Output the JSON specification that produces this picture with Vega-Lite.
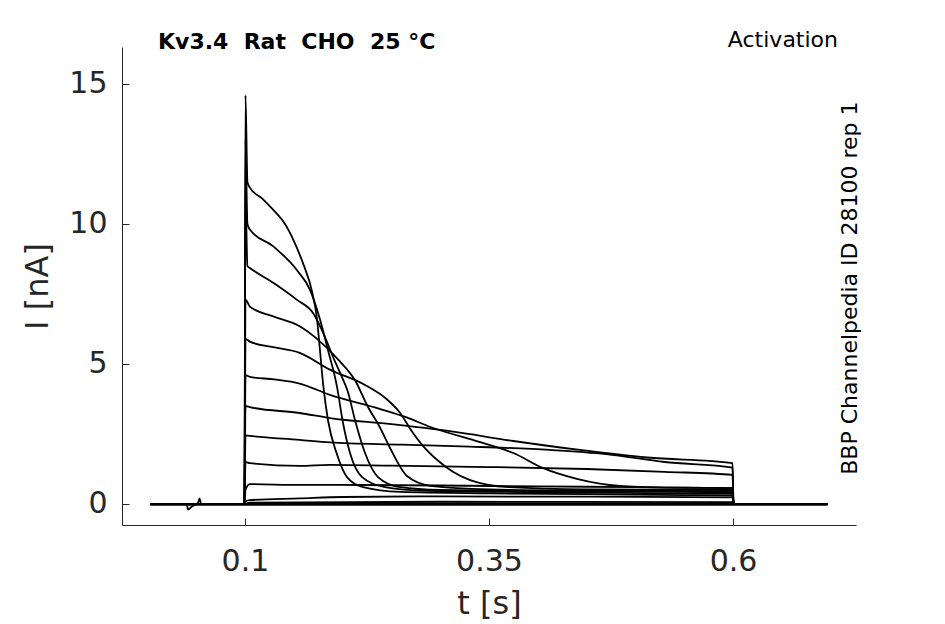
{
  "$schema": "https://vega.github.io/schema/vega-lite/v6.json",
  "width": 734,
  "height": 478,
  "autosize": "none",
  "padding": {"left": 122, "top": 47, "right": 89, "bottom": 99},
  "background": "white",
  "config": {
    "view": {"stroke": null},
    "font": "DejaVu Sans",
    "axis": {
      "grid": false,
      "domainColor": "#262626",
      "tickColor": "#262626",
      "labelColor": "#262626",
      "titleColor": "#262626",
      "labelFont": "DejaVu Sans",
      "titleFont": "DejaVu Sans",
      "labelFontSize": 30,
      "titleFontSize": 32,
      "titleFontWeight": "normal",
      "tickSize": -7,
      "domainWidth": 1,
      "tickWidth": 1
    },
    "axisX": {"labelPadding": 28, "titlePadding": 12},
    "axisY": {"labelPadding": 22, "titlePadding": 14}
  },
  "title": {
    "text": "Kv3.4 \u00a0Rat \u00a0CHO \u00a025 °C",
    "anchor": "start",
    "frame": "group",
    "offset": -42,
    "baseline": "alphabetic",
    "dx": 36,
    "fontSize": 22,
    "fontWeight": "bold",
    "color": "black",
    "font": "DejaVu Sans"
  },
  "layer": [
    {
      "data": {"values": [
        {"s":"A","t":0.003,"I":0},{"s":"A","t":0.0995,"I":0},{"s":"A","t":0.1005,"I":14.6},{"s":"A","t":0.1025,"I":11.5},{"s":"A","t":0.105,"I":11.3},{"s":"A","t":0.118,"I":10.9},{"s":"A","t":0.129,"I":10.5},{"s":"A","t":0.14,"I":10.05},{"s":"A","t":0.15,"I":9.4},{"s":"A","t":0.1594,"I":8.6},{"s":"A","t":0.1686,"I":7.6},{"s":"A","t":0.1738,"I":6.6},{"s":"A","t":0.1768,"I":5.5},{"s":"A","t":0.18,"I":4.3},{"s":"A","t":0.185,"I":3.0},{"s":"A","t":0.194,"I":1.8},{"s":"A","t":0.2045,"I":0.96},{"s":"A","t":0.221,"I":0.6},{"s":"A","t":0.259,"I":0.43},{"s":"A","t":0.35,"I":0.38},{"s":"A","t":0.45,"I":0.35},{"s":"A","t":0.55,"I":0.32},{"s":"A","t":0.5995,"I":0.3},{"s":"A","t":0.6005,"I":0},{"s":"A","t":0.697,"I":0},
        {"s":"B","t":0.003,"I":0},{"s":"B","t":0.0995,"I":0},{"s":"B","t":0.1005,"I":13.0},{"s":"B","t":0.1025,"I":10.0},{"s":"B","t":0.105,"I":9.8},{"s":"B","t":0.129,"I":9.2},{"s":"B","t":0.1533,"I":8.35},{"s":"B","t":0.1666,"I":7.65},{"s":"B","t":0.1768,"I":6.6},{"s":"B","t":0.185,"I":5.5},{"s":"B","t":0.1943,"I":4.18},{"s":"B","t":0.2004,"I":2.9},{"s":"B","t":0.2076,"I":1.82},{"s":"B","t":0.22,"I":0.96},{"s":"B","t":0.2434,"I":0.6},{"s":"B","t":0.28,"I":0.48},{"s":"B","t":0.4,"I":0.42},{"s":"B","t":0.5995,"I":0.36},{"s":"B","t":0.6005,"I":0},{"s":"B","t":0.697,"I":0},
        {"s":"C","t":0.003,"I":0},{"s":"C","t":0.0995,"I":0},{"s":"C","t":0.1005,"I":11.0},{"s":"C","t":0.1025,"I":8.5},{"s":"C","t":0.105,"I":8.43},{"s":"C","t":0.129,"I":7.9},{"s":"C","t":0.1533,"I":7.29},{"s":"C","t":0.1697,"I":6.82},{"s":"C","t":0.182,"I":5.96},{"s":"C","t":0.1902,"I":5.25},{"s":"C","t":0.1985,"I":4.6},{"s":"C","t":0.2055,"I":4.0},{"s":"C","t":0.2127,"I":3.0},{"s":"C","t":0.223,"I":1.82},{"s":"C","t":0.2363,"I":0.96},{"s":"C","t":0.2588,"I":0.6},{"s":"C","t":0.3,"I":0.5},{"s":"C","t":0.45,"I":0.45},{"s":"C","t":0.5995,"I":0.42},{"s":"C","t":0.6005,"I":0},{"s":"C","t":0.697,"I":0},
        {"s":"D","t":0.003,"I":0},{"s":"D","t":0.0995,"I":0},{"s":"D","t":0.1005,"I":7.3},{"s":"D","t":0.105,"I":7.05},{"s":"D","t":0.129,"I":6.7},{"s":"D","t":0.156,"I":6.35},{"s":"D","t":0.172,"I":5.95},{"s":"D","t":0.197,"I":5.1},{"s":"D","t":0.213,"I":4.4},{"s":"D","t":0.2255,"I":3.5},{"s":"D","t":0.238,"I":2.75},{"s":"D","t":0.2486,"I":2.0},{"s":"D","t":0.266,"I":1.0},{"s":"D","t":0.29,"I":0.65},{"s":"D","t":0.35,"I":0.52},{"s":"D","t":0.45,"I":0.48},{"s":"D","t":0.5995,"I":0.46},{"s":"D","t":0.6005,"I":0},{"s":"D","t":0.697,"I":0},
        {"s":"E","t":0.003,"I":0},{"s":"E","t":0.0995,"I":0},{"s":"E","t":0.1005,"I":5.9},{"s":"E","t":0.105,"I":5.8},{"s":"E","t":0.129,"I":5.6},{"s":"E","t":0.156,"I":5.4},{"s":"E","t":0.187,"I":4.8},{"s":"E","t":0.223,"I":4.25},{"s":"E","t":0.245,"I":3.75},{"s":"E","t":0.259,"I":3.25},{"s":"E","t":0.269,"I":2.7},{"s":"E","t":0.283,"I":2.05},{"s":"E","t":0.297,"I":1.57},{"s":"E","t":0.313,"I":1.15},{"s":"E","t":0.33,"I":0.86},{"s":"E","t":0.37,"I":0.6},{"s":"E","t":0.45,"I":0.52},{"s":"E","t":0.5995,"I":0.5},{"s":"E","t":0.6005,"I":0},{"s":"E","t":0.697,"I":0},
        {"s":"F","t":0.003,"I":0},{"s":"F","t":0.0995,"I":0},{"s":"F","t":0.1005,"I":4.6},{"s":"F","t":0.105,"I":4.54},{"s":"F","t":0.13,"I":4.45},{"s":"F","t":0.156,"I":4.3},{"s":"F","t":0.187,"I":3.9},{"s":"F","t":0.238,"I":3.4},{"s":"F","t":0.265,"I":3.1},{"s":"F","t":0.29,"I":2.75},{"s":"F","t":0.341,"I":2.21},{"s":"F","t":0.375,"I":1.82},{"s":"F","t":0.405,"I":1.29},{"s":"F","t":0.44,"I":0.9},{"s":"F","t":0.484,"I":0.65},{"s":"F","t":0.55,"I":0.58},{"s":"F","t":0.5995,"I":0.57},{"s":"F","t":0.6005,"I":0},{"s":"F","t":0.697,"I":0},
        {"s":"G","t":0.003,"I":0},{"s":"G","t":0.0995,"I":0},{"s":"G","t":0.1005,"I":3.5},{"s":"G","t":0.105,"I":3.46},{"s":"G","t":0.156,"I":3.25},{"s":"G","t":0.187,"I":3.07},{"s":"G","t":0.25,"I":2.85},{"s":"G","t":0.31,"I":2.6},{"s":"G","t":0.375,"I":2.25},{"s":"G","t":0.443,"I":1.93},{"s":"G","t":0.512,"I":1.66},{"s":"G","t":0.5995,"I":1.46},{"s":"G","t":0.6005,"I":0},{"s":"G","t":0.697,"I":0},
        {"s":"H","t":0.003,"I":0},{"s":"H","t":0.0995,"I":0},{"s":"H","t":0.1005,"I":2.45},{"s":"H","t":0.105,"I":2.43},{"s":"H","t":0.156,"I":2.29},{"s":"H","t":0.187,"I":2.2},{"s":"H","t":0.26,"I":2.12},{"s":"H","t":0.33,"I":2.05},{"s":"H","t":0.4125,"I":1.93},{"s":"H","t":0.47,"I":1.78},{"s":"H","t":0.53,"I":1.5},{"s":"H","t":0.5995,"I":1.3},{"s":"H","t":0.6005,"I":0},{"s":"H","t":0.697,"I":0},
        {"s":"I","t":0.003,"I":0},{"s":"I","t":0.0995,"I":0},{"s":"I","t":0.1005,"I":1.5},{"s":"I","t":0.105,"I":1.46},{"s":"I","t":0.156,"I":1.36},{"s":"I","t":0.187,"I":1.4},{"s":"I","t":0.25,"I":1.37},{"s":"I","t":0.35,"I":1.32},{"s":"I","t":0.45,"I":1.25},{"s":"I","t":0.53,"I":1.15},{"s":"I","t":0.5995,"I":1.04},{"s":"I","t":0.6005,"I":0},{"s":"I","t":0.697,"I":0},
        {"s":"J","t":0.003,"I":0},{"s":"J","t":0.0995,"I":0},{"s":"J","t":0.1005,"I":0.5},{"s":"J","t":0.105,"I":0.71},{"s":"J","t":0.156,"I":0.68},{"s":"J","t":0.2,"I":0.68},{"s":"J","t":0.3,"I":0.66},{"s":"J","t":0.4,"I":0.63},{"s":"J","t":0.5,"I":0.6},{"s":"J","t":0.5995,"I":0.57},{"s":"J","t":0.6005,"I":0},{"s":"J","t":0.697,"I":0},
        {"s":"K","t":0.003,"I":0},{"s":"K","t":0.0995,"I":0},{"s":"K","t":0.1005,"I":0.1},{"s":"K","t":0.105,"I":0.14},{"s":"K","t":0.156,"I":0.2},{"s":"K","t":0.2,"I":0.25},{"s":"K","t":0.3,"I":0.27},{"s":"K","t":0.45,"I":0.26},{"s":"K","t":0.5995,"I":0.24},{"s":"K","t":0.6005,"I":0},{"s":"K","t":0.697,"I":0},
        {"s":"L","t":0.003,"I":0},{"s":"L","t":0.0995,"I":0},{"s":"L","t":0.105,"I":0.05},{"s":"L","t":0.3,"I":0.08},{"s":"L","t":0.5995,"I":0.07},{"s":"L","t":0.6005,"I":0},{"s":"L","t":0.697,"I":0},
        {"s":"M","t":0.003,"I":0},{"s":"M","t":0.0405,"I":0},{"s":"M","t":0.0415,"I":-0.2},{"s":"M","t":0.046,"I":-0.08},{"s":"M","t":0.052,"I":0.05},{"s":"M","t":0.0535,"I":0.2},{"s":"M","t":0.055,"I":0},{"s":"M","t":0.0995,"I":0},{"s":"M","t":0.105,"I":0.02},{"s":"M","t":0.5995,"I":0.02},{"s":"M","t":0.6005,"I":0},{"s":"M","t":0.697,"I":0},
        {"s":"N","t":0.003,"I":-0.03},{"s":"N","t":0.697,"I":-0.03}
      ]},
      "mark": {"type": "line", "color": "black", "strokeWidth": 1.8, "strokeJoin": "round", "interpolate": "monotone", "clip": true},
      "encoding": {
        "x": {"field": "t", "type": "quantitative",
              "scale": {"domain": [-0.026, 0.726], "nice": false, "zero": false},
              "axis": {"values": [0.1, 0.35, 0.6], "format": ".2~f", "title": "t [s]"}},
        "y": {"field": "I", "type": "quantitative",
              "scale": {"domain": [-0.75, 16.32], "nice": false, "zero": false},
              "axis": {"values": [0, 5, 10, 15], "format": "d", "title": "I [nA]"}},
        "detail": {"field": "s", "type": "nominal"}
      }
    },
    {
      "data": {"values": [{}]},
      "mark": {"type": "text", "align": "right", "baseline": "alphabetic", "dx": -18, "fontSize": 22, "color": "black", "font": "DejaVu Sans"},
      "encoding": {
        "x": {"datum": 0.726, "type": "quantitative"},
        "y": {"datum": 16.32, "type": "quantitative"},
        "text": {"value": "Activation"}
      }
    },
    {
      "data": {"values": [{}]},
      "mark": {"type": "text", "align": "center", "baseline": "alphabetic", "angle": 270, "dy": 1, "fontSize": 22, "color": "black", "font": "DejaVu Sans"},
      "encoding": {
        "x": {"datum": 0.726, "type": "quantitative"},
        "y": {"datum": 7.71, "type": "quantitative"},
        "text": {"value": "BBP Channelpedia ID 28100 rep 1"}
      }
    }
  ]
}
